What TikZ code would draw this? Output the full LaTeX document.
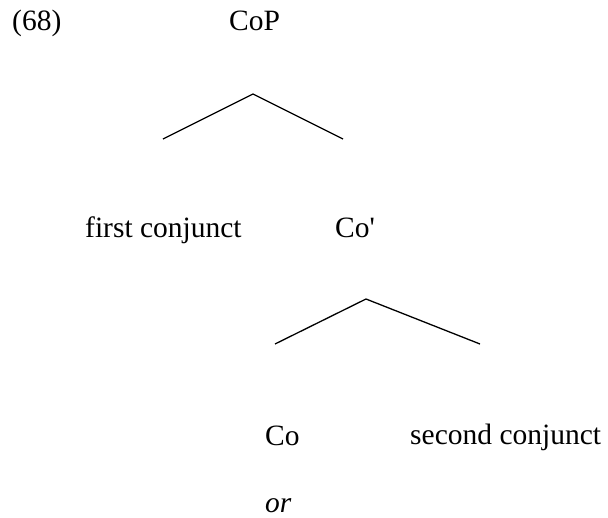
\documentclass[tikz,border=0pt]{standalone}
\usepackage{fontspec}
\setmainfont{Liberation Serif}
\begin{document}
\begin{tikzpicture}[x=1pt,y=-1pt,
  lbl/.style={anchor=base west,inner sep=0pt,font=\fontsize{29.5}{35}\selectfont},
  branch/.style={line width=1.3pt,line join=miter}]
\useasboundingbox (0,0) rectangle (608,517);
\node[lbl] (ex) at (12,30) {(68)};
\node[lbl] (cop) at (229,30) {CoP};
\coordinate (a1) at (253,94);
\coordinate (l1) at (163,139);
\coordinate (r1) at (343,139);
\draw[branch] (l1) -- (a1) -- (r1);
\node[lbl] (fc) at (85,237) {first conjunct};
\node[lbl] (cobar) at (335,237) {Co\textquotesingle};
\coordinate (a2) at (366,299);
\coordinate (l2) at (275,344);
\coordinate (r2) at (480,344);
\draw[branch] (l2) -- (a2) -- (r2);
\node[lbl] (co) at (265,445) {Co};
\node[lbl] (sc) at (410,444) {second conjunct};
\node[lbl,text depth=0pt] (or) at (265,512) {\itshape or};
\end{tikzpicture}
\end{document}
